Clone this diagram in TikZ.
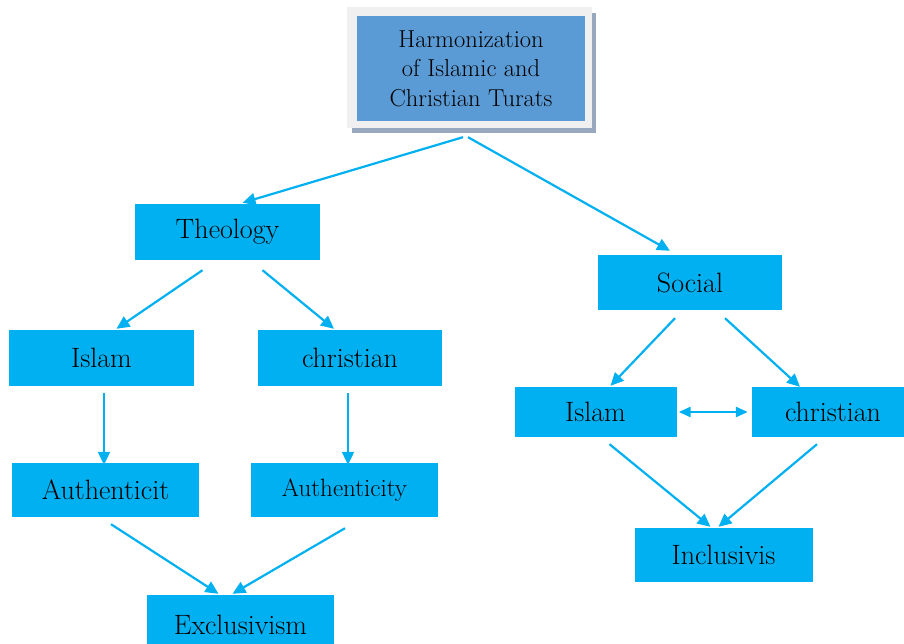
\documentclass[tikz,border=0pt]{standalone}
\usetikzlibrary{arrows.meta}
\definecolor{boxblue}{HTML}{00B0F0}
\definecolor{topblue}{HTML}{5B9BD5}
\definecolor{shadowgray}{HTML}{97A8BF}
\definecolor{framegray}{HTML}{F0F0F0}
\begin{document}
\begin{tikzpicture}[x=1pt,y=-1pt,
  box/.style={fill=boxblue,draw=none,inner sep=0pt,align=center,font=\fontsize{28}{32}\selectfont},
  arr/.style={draw=boxblue,line width=2.2pt,-{Triangle[length=13pt,width=12pt]}},
  darr/.style={draw=boxblue,line width=2.6pt,{Triangle[length=12pt,width=10pt]}-{Triangle[length=12pt,width=10pt]}}]
\useasboundingbox (0,0) rectangle (904,644);
\clip (0,0) rectangle (904,644);
% top box with frame and shadow
\fill[shadowgray] (352,13) rectangle (596,133);
\fill[framegray] (347,7) rectangle (592,128);
\node[box,fill=topblue,minimum width=228pt,minimum height=105pt,font=\fontsize{24.5}{29.5}\selectfont] (top) at (471,68.5) {Harmonization\\of Islamic and\\Christian Turats};
% nodes
\node[box,minimum width=185pt,minimum height=56pt] (theo) at (227.5,232) {Theology};
\node[box,minimum width=185pt,minimum height=56pt] (islL) at (101.5,358) {Islam};
\node[box,minimum width=184pt,minimum height=56pt] (chrL) at (350,358) {christian};
\node[box,minimum width=187pt,minimum height=54pt] (autL) at (105.5,490) {Authenticit};
\node[box,minimum width=187pt,minimum height=54pt,font=\fontsize{25}{29}\selectfont] (autR) at (344.5,490) {Authenticity};
\node[box,minimum width=187pt,minimum height=60pt] (excl) at (240.5,625) {Exclusivism};
\node[box,minimum width=184pt,minimum height=55pt] (social) at (690,282.5) {Social};
\node[box,minimum width=162pt,minimum height=50pt] (islR) at (595.5,412) {Islam};
\node[box,minimum width=162pt,minimum height=50pt] (chrR) at (833,412) {christian};
\node[box,minimum width=178pt,minimum height=54pt] (incl) at (723.5,555) {Inclusivis};
% connectors
\draw[arr] ([shift={(-8,16)}]top.south) -- ([shift={(15,-1)}]theo.north);
\draw[arr] ([shift={(-3,16)}]top.south) -- ([shift={(-20,-4)}]social.north);
\draw[arr] ([shift={(-25,10)}]theo.south) -- ([shift={(15,-1)}]islL.north);
\draw[arr] ([shift={(35,10)}]theo.south) -- ([shift={(-16,-1)}]chrL.north);
\draw[arr] ([shift={(2.5,7)}]islL.south) -- ([shift={(-1.5,2)}]autL.north);
\draw[arr] ([shift={(-2,7)}]chrL.south) -- ([shift={(3.5,2)}]autR.north);
\draw[arr] ([shift={(5.5,7)}]autL.south) -- ([shift={(-22,-1)}]excl.north);
\draw[arr] ([shift={(0.5,11)}]autR.south) -- ([shift={(-8,-1)}]excl.north);
\draw[arr] ([shift={(-15,8)}]social.south) -- ([shift={(15,-1)}]islR.north);
\draw[arr] ([shift={(35,8)}]social.south) -- ([shift={(-33,0)}]chrR.north);
\draw[darr] ([xshift=2pt]islR.east) -- ([xshift=-4pt]chrR.west);
\draw[arr] ([shift={(14,7)}]islR.south) -- ([shift={(-13,-1)}]incl.north);
\draw[arr] ([shift={(-16,7)}]chrR.south) -- ([shift={(-5,-1)}]incl.north);
\end{tikzpicture}
\end{document}
